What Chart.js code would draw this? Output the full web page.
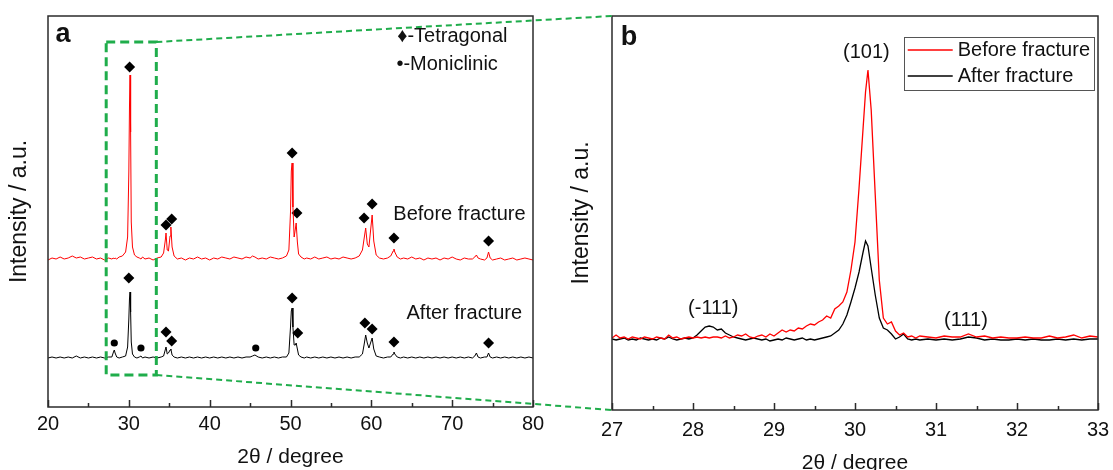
<!DOCTYPE html>
<html>
<head>
<meta charset="utf-8">
<script src="https://cdn.jsdelivr.net/npm/chart.js@4.4.1/dist/chart.umd.min.js"></script>
<style>
  html, body { margin: 0; padding: 0; background: #fff; overflow: hidden; }
  #wrap { position: relative; width: 1113px; height: 470px; overflow: hidden; background: #fff; }
  #chartA { position: absolute; left: 0; top: 0; width: 560px; height: 470px; }
  #chartB { position: absolute; left: 560px; top: 0; width: 553px; height: 480px; }
  #links { position: absolute; left: 0; top: 0; width: 1113px; height: 470px; pointer-events: none; }
</style>
</head>
<body>
<div id="wrap">
  <canvas id="chartA" width="560" height="470"></canvas>
  <canvas id="chartB" width="553" height="480"></canvas>
  <canvas id="links" width="1113" height="470"></canvas>
</div>
<script>
// --- Panel a: full XRD patterns (2θ 20-80), curves stacked with an offset ---
const thetaA = [
    20, 20.5, 21, 21.5, 22, 22.5, 23, 23.5, 24, 24.5,
    25, 25.5, 26, 26.5, 27, 27.5, 27.9, 28.1, 28.2, 28.3,
    28.5, 28.8, 29.2, 29.6, 29.85, 30.0, 30.08, 30.15, 30.22, 30.3,
    30.45, 30.7, 31.0, 31.3, 31.5, 31.7, 32, 32.5, 33, 33.5,
    34, 34.3, 34.5, 34.6, 34.75, 34.9, 35.1, 35.2, 35.35, 35.6,
    36, 36.5, 37, 37.5, 38, 38.5, 39, 39.5, 40, 40.5,
    41, 41.5, 42, 42.5, 43, 43.5, 44, 44.5, 45, 45.3,
    45.6, 46, 46.5, 47, 47.5, 48, 48.5, 49, 49.5, 49.8,
    50.0, 50.1, 50.2, 50.3, 50.45, 50.6, 50.7, 50.85, 51.0, 51.3,
    51.7, 52, 52.5, 53, 53.5, 54, 54.5, 55, 55.5, 56,
    56.5, 57, 57.5, 58, 58.5, 58.9, 59.1, 59.3, 59.5, 59.7,
    59.9, 60.1, 60.3, 60.6, 61, 61.5, 62, 62.4, 62.7, 62.8,
    62.9, 63.2, 63.6, 64, 64.5, 65, 65.5, 66, 66.5, 67,
    67.5, 68, 68.5, 69, 69.5, 70, 70.5, 71, 71.5, 72,
    72.5, 72.8, 73.0, 73.2, 73.5, 74, 74.3, 74.5, 74.7, 75,
    75.5, 76, 76.5, 77, 77.5, 78, 78.5, 79, 79.5, 80
];
const beforeA = [
    147, 149, 148, 150, 148, 149, 151, 149, 150, 148,
    149, 150, 148, 149, 147, 149, 148, 149, 148, 149,
    148, 150, 151, 155, 170, 235, 300, 332, 275, 185,
    160, 152, 150, 149, 148, 150, 148, 149, 147, 149,
    150, 154, 166, 174, 157, 156, 171, 180, 160, 151,
    148, 149, 147, 149, 148, 150, 148, 149, 147, 149,
    148, 150, 149, 148, 150, 149, 148, 150, 149, 151,
    150, 148, 149, 148, 150, 149, 148, 149, 151, 157,
    195, 236, 244, 200, 170, 178, 184, 165, 153, 150,
    148, 149, 148, 150, 148, 149, 150, 148, 149, 148,
    150, 149, 148, 149, 151, 157, 168, 179, 163, 160,
    176, 192, 166, 152, 149, 148, 149, 151, 156, 158,
    155, 150, 148, 149, 148, 150, 148, 149, 147, 149,
    148, 149, 147, 149, 148, 150, 148, 147, 149, 148,
    148, 150, 152, 149, 148, 147, 149, 155, 149, 147,
    148, 149, 147, 148, 149, 147, 148, 149, 148, 147
];
const afterA = [
    49, 50, 49, 50, 49, 50, 49, 51, 49, 50,
    49, 50, 49, 50, 49, 50, 50, 55, 57, 54,
    50, 49, 50, 51, 60, 88, 108, 115, 95, 65,
    53, 50, 49, 50, 51, 49, 50, 49, 50, 49,
    50, 51, 57, 60, 53, 54, 57, 58, 52, 50,
    49, 50, 49, 50, 49, 50, 49, 50, 49, 50,
    49, 50, 49, 50, 49, 50, 49, 50, 50, 51,
    52, 50, 49, 50, 49, 50, 49, 50, 50, 54,
    80, 96, 99, 80, 62, 62, 64, 58, 52, 50,
    49, 50, 49, 50, 49, 50, 49, 50, 49, 50,
    49, 50, 49, 50, 50, 53, 62, 72, 64, 59,
    64, 69, 58, 51, 50, 49, 50, 50, 53, 55,
    53, 50, 49, 50, 49, 50, 49, 50, 49, 50,
    49, 50, 49, 50, 49, 50, 49, 50, 49, 50,
    49, 51, 54, 50, 49, 50, 50, 54, 50, 49,
    50, 49, 50, 49, 50, 49, 50, 49, 50, 49
];
// phase markers (♦ tetragonal, ● monoclinic)
const tetraBeforeX = [30.1, 34.6, 35.3, 50.2, 50.8, 59.1, 60.1, 62.8, 74.5];
const tetraBeforeY = [340, 182, 188, 254, 194, 189, 203, 169, 166];
const tetraAfterX = [30.0, 34.6, 35.3, 50.2, 50.9, 59.2, 60.1, 62.8, 74.5];
const tetraAfterY = [129, 75, 66, 109, 74, 84, 78, 65, 64];
const monoAfterX = [28.2, 31.5, 45.7];
const monoAfterY = [64, 59, 59];
// zoomed window marked on panel a
const zoomBoxX = [27.2, 33.4];
const zoomBoxY = [32, 365];

// --- Panel b: zoom on the (101) peak, 2θ 27-33 ---
const thetaB = [
    27.00, 27.05, 27.10, 27.15, 27.20, 27.25, 27.30, 27.35, 27.40, 27.45,
    27.50, 27.55, 27.60, 27.65, 27.70, 27.75, 27.80, 27.85, 27.90, 27.95,
    28.00, 28.05, 28.10, 28.15, 28.20, 28.25, 28.30, 28.35, 28.40, 28.45,
    28.50, 28.55, 28.60, 28.65, 28.70, 28.75, 28.80, 28.85, 28.90, 28.95,
    29.00, 29.05, 29.10, 29.15, 29.20, 29.25, 29.30, 29.35, 29.40, 29.45,
    29.50, 29.55, 29.60, 29.65, 29.70, 29.75, 29.80, 29.85, 29.90, 29.95,
    30.00, 30.05, 30.10, 30.13, 30.16, 30.20, 30.25, 30.30, 30.35, 30.40,
    30.45, 30.50, 30.55, 30.60, 30.65, 30.70, 30.75, 30.80, 30.90, 31.00,
    31.10, 31.20, 31.30, 31.40, 31.50, 31.60, 31.70, 31.80, 31.90, 32.00,
    32.10, 32.20, 32.30, 32.40, 32.50, 32.60, 32.70, 32.80, 32.90, 33.00
];
const beforeB = [
    72, 75, 72, 73, 71, 73, 72, 71, 73, 72,
    71, 73, 72, 71, 75, 72, 73, 71, 72, 73,
    72, 73, 72, 73, 72, 73, 73, 72, 74, 72,
    73, 75, 74, 76, 73, 72, 74, 75, 73, 76,
    74, 77, 80, 78, 80, 79, 82, 81, 84, 86,
    85, 88, 90, 94, 92, 101, 104, 108, 118, 140,
    168, 222, 282, 318, 340, 300, 215, 130, 92, 86,
    88, 79, 75, 77, 73, 74, 72, 74, 73, 72,
    74, 73, 73, 76, 73, 74, 72, 73, 72, 72,
    73, 72, 72, 74, 72, 73, 75, 72, 74, 73
];
const afterB = [
    71, 70, 71, 72, 70, 71, 70, 72, 71, 70,
    71, 70, 72, 71, 73, 71, 70, 71, 72, 71,
    72, 75, 79, 83, 84, 83, 80, 81, 77, 75,
    73, 72, 71, 70, 71, 72, 71, 70, 71, 69,
    70, 71, 70, 72, 71, 70, 71, 72, 70, 71,
    70, 71, 72, 73, 74, 77, 80, 86, 95, 108,
    122, 138, 158, 169, 164, 142, 115, 92, 82, 80,
    76, 71, 73, 76, 71, 70, 71, 70, 71, 70,
    71, 70, 71, 73, 72, 70, 71, 70, 70, 71,
    70, 71, 70, 70, 71, 70, 71, 70, 71, 71
];

const FONT = 'Arial, "Liberation Sans", "DejaVu Sans", sans-serif';
const INK = '#111';
const FRAME = '#2b2b2b';
const GREEN = '#1fad4b';

function pts(xs, ys) {
    return xs.map((x, i) => ({ x: x, y: ys[i] }));
}

// box around the plot area + inward ticks on the bottom axis
const framePlugin = {
    id: 'frame',
    afterDatasetsDraw(chart) {
        const { ctx, chartArea: a, scales: { x } } = chart;
        ctx.save();
        ctx.strokeStyle = FRAME;
        ctx.lineWidth = 1.5;
        ctx.strokeRect(a.left, a.top, a.right - a.left, a.bottom - a.top);
        ctx.beginPath();
        x.ticks.forEach(t => {
            const px = Math.round(x.getPixelForValue(t.value)) + 0.5;
            const len = t.label === '' ? 4 : 7;
            ctx.moveTo(px, a.bottom);
            ctx.lineTo(px, a.bottom - len);
        });
        ctx.stroke();
        ctx.restore();
    }
};

// panel letter and free text placed in data coordinates
function notesPlugin(letter, letterOffset, notes) {
    return {
        id: 'notes',
        afterDatasetsDraw(chart) {
            const { ctx, chartArea: a, scales: { x, y } } = chart;
            ctx.save();
            ctx.fillStyle = INK;
            ctx.textBaseline = 'middle';
            ctx.textAlign = 'center';
            ctx.font = 'bold 27px ' + FONT;
            ctx.fillText(letter, a.left + letterOffset[0], a.top + letterOffset[1]);
            ctx.font = '20px ' + FONT;
            notes.forEach(n => {
                ctx.textAlign = n.align || 'center';
                ctx.fillText(n.text, x.getPixelForValue(n.x), y.getPixelForValue(n.y));
            });
            ctx.restore();
        }
    };
}

const zoomBoxPlugin = {
    id: 'zoomBox',
    afterDatasetsDraw(chart) {
        const { ctx, scales: { x, y } } = chart;
        const x0 = x.getPixelForValue(zoomBoxX[0]), x1 = x.getPixelForValue(zoomBoxX[1]);
        const y0 = y.getPixelForValue(zoomBoxY[1]), y1 = y.getPixelForValue(zoomBoxY[0]);
        ctx.save();
        ctx.strokeStyle = GREEN;
        ctx.lineWidth = 3;
        ctx.setLineDash([9, 5]);
        ctx.strokeRect(x0, y0, x1 - x0, y1 - y0);
        ctx.restore();
    }
};

// legend with a frame, top right of panel b
const legendBoxPlugin = {
    id: 'legendBox',
    afterDraw(chart) {
        const { ctx, chartArea: a } = chart;
        const items = chart.data.datasets;
        ctx.save();
        ctx.font = '20px ' + FONT;
        const textW = Math.max(...items.map(d => ctx.measureText(d.label).width));
        const pad = 4, lineLen = 45, gap = 5, rowH = 26;
        const w = pad + lineLen + gap + textW + pad;
        const h = rowH * items.length + 1;
        const left = a.right - 4 - w;
        const top = a.top + 21;
        ctx.strokeStyle = '#555';
        ctx.lineWidth = 1;
        ctx.strokeRect(Math.round(left) + 0.5, Math.round(top) + 0.5, Math.round(w), Math.round(h));
        items.forEach((d, i) => {
            const cy = top + rowH * i + rowH / 2;
            ctx.strokeStyle = d.borderColor;
            ctx.lineWidth = 1.5;
            ctx.beginPath();
            ctx.moveTo(left + pad, cy);
            ctx.lineTo(left + pad + lineLen, cy);
            ctx.stroke();
            ctx.fillStyle = INK;
            ctx.textAlign = 'left';
            ctx.textBaseline = 'middle';
            ctx.fillText(d.label, left + pad + lineLen + gap, cy);
        });
        ctx.restore();
    }
};

function axisX(min, max, step, isMajor, titlePadBottom, labelPad, height) {
    return {
        type: 'linear',
        min: min,
        max: max,
        grid: { display: false },
        border: { display: false },
        ticks: {
            stepSize: step,
            autoSkip: false,
            maxRotation: 0,
            padding: labelPad,
            color: INK,
            font: { family: FONT, size: 20 },
            callback: v => isMajor(v) ? v : ''
        },
        title: {
            display: true,
            text: '2θ / degree',
            color: INK,
            font: { family: FONT, size: 21 },
            padding: { top: 0, bottom: titlePadBottom }
        },
        afterFit: s => { s.height = height; }
    };
}

function axisY(max, titlePadTop, width) {
    return {
        min: 0,
        max: max,
        grid: { display: false },
        border: { display: false },
        ticks: { display: false },
        title: {
            display: true,
            text: 'Intensity / a.u.',
            color: INK,
            font: { family: FONT, size: 23 },
            padding: { top: titlePadTop, bottom: 0 }
        },
        afterFit: s => { s.width = width; }
    };
}

const chartA = new Chart(document.getElementById('chartA'), {
    type: 'scatter',
    data: {
        datasets: [
            { label: 'Before fracture', data: pts(thetaA, beforeA), showLine: true,
              borderColor: '#ff0000', borderWidth: 1, pointRadius: 0 },
            { label: 'After fracture', data: pts(thetaA, afterA), showLine: true,
              borderColor: '#000000', borderWidth: 1, pointRadius: 0 },
            { label: 'Tetragonal', data: pts(tetraBeforeX.concat(tetraAfterX), tetraBeforeY.concat(tetraAfterY)),
              pointStyle: 'rectRot', pointRadius: 5.5, backgroundColor: '#000', borderWidth: 0 },
            { label: 'Moniclinic', data: pts(monoAfterX, monoAfterY),
              pointStyle: 'circle', pointRadius: 3.6, backgroundColor: '#000', borderWidth: 0 }
        ]
    },
    options: {
        responsive: false,
        animation: false,
        events: [],
        layout: { padding: { top: 16, right: 27, left: 0, bottom: 0 } },
        plugins: { legend: { display: false }, tooltip: { enabled: false } },
        scales: {
            x: axisX(20, 80, 5, v => v % 10 === 0, 0, -3, 63),
            y: axisY(391, 6, 48)
        }
    },
    plugins: [
        framePlugin,
        zoomBoxPlugin,
        notesPlugin('a', [15, 19], [
            { text: 'Before fracture', x: 70.9, y: 193 },
            { text: 'After fracture', x: 71.5, y: 94 },
            { text: '♦-Tetragonal', x: 63.2, y: 371, align: 'left' },
            { text: '•-Moniclinic', x: 63.1, y: 343, align: 'left' }
        ])
    ]
});

// dashed connectors from the zoom window to panel b
function drawLinks(chartB) {
    const canvas = document.getElementById('links');
    const ctx = canvas.getContext('2d');
    const ax = chartA.scales.x, ay = chartA.scales.y;
    const offA = chartA.canvas.offsetLeft, offB = chartB.canvas.offsetLeft;
    const bx = offB + chartB.chartArea.left;
    const sx = offA + ax.getPixelForValue(zoomBoxX[1]);
    ctx.clearRect(0, 0, canvas.width, canvas.height);
    ctx.save();
    ctx.strokeStyle = GREEN;
    ctx.lineWidth = 2;
    ctx.setLineDash([6, 4]);
    ctx.beginPath();
    ctx.moveTo(sx, ay.getPixelForValue(zoomBoxY[1]));
    ctx.lineTo(bx, chartB.chartArea.top);
    ctx.moveTo(sx, ay.getPixelForValue(zoomBoxY[0]));
    ctx.lineTo(bx, chartB.chartArea.bottom);
    ctx.stroke();
    ctx.restore();
}

const chartB = new Chart(document.getElementById('chartB'), {
    type: 'scatter',
    data: {
        datasets: [
            { label: 'Before fracture', data: pts(thetaB, beforeB), showLine: true,
              borderColor: '#ff0000', borderWidth: 1.3, pointRadius: 0 },
            { label: 'After fracture', data: pts(thetaB, afterB), showLine: true,
              borderColor: '#000000', borderWidth: 1.3, pointRadius: 0 }
        ]
    },
    options: {
        responsive: false,
        animation: false,
        events: [],
        layout: { padding: { top: 16, right: 15, left: 0, bottom: 0 } },
        plugins: { legend: { display: false }, tooltip: { enabled: false } },
        scales: {
            x: axisX(27, 33, 0.5, v => Number.isInteger(v), 4, 0, 70),
            y: axisY(394, 8, 52)
        }
    },
    plugins: [
        framePlugin,
        legendBoxPlugin,
        notesPlugin('b', [17, 22], [
            { text: '(101)', x: 30.14, y: 358 },
            { text: '(-111)', x: 28.25, y: 102 },
            { text: '(111)', x: 31.37, y: 90 }
        ]),
        { id: 'links', afterRender: c => drawLinks(c) }
    ]
});
</script>
</body>
</html>
